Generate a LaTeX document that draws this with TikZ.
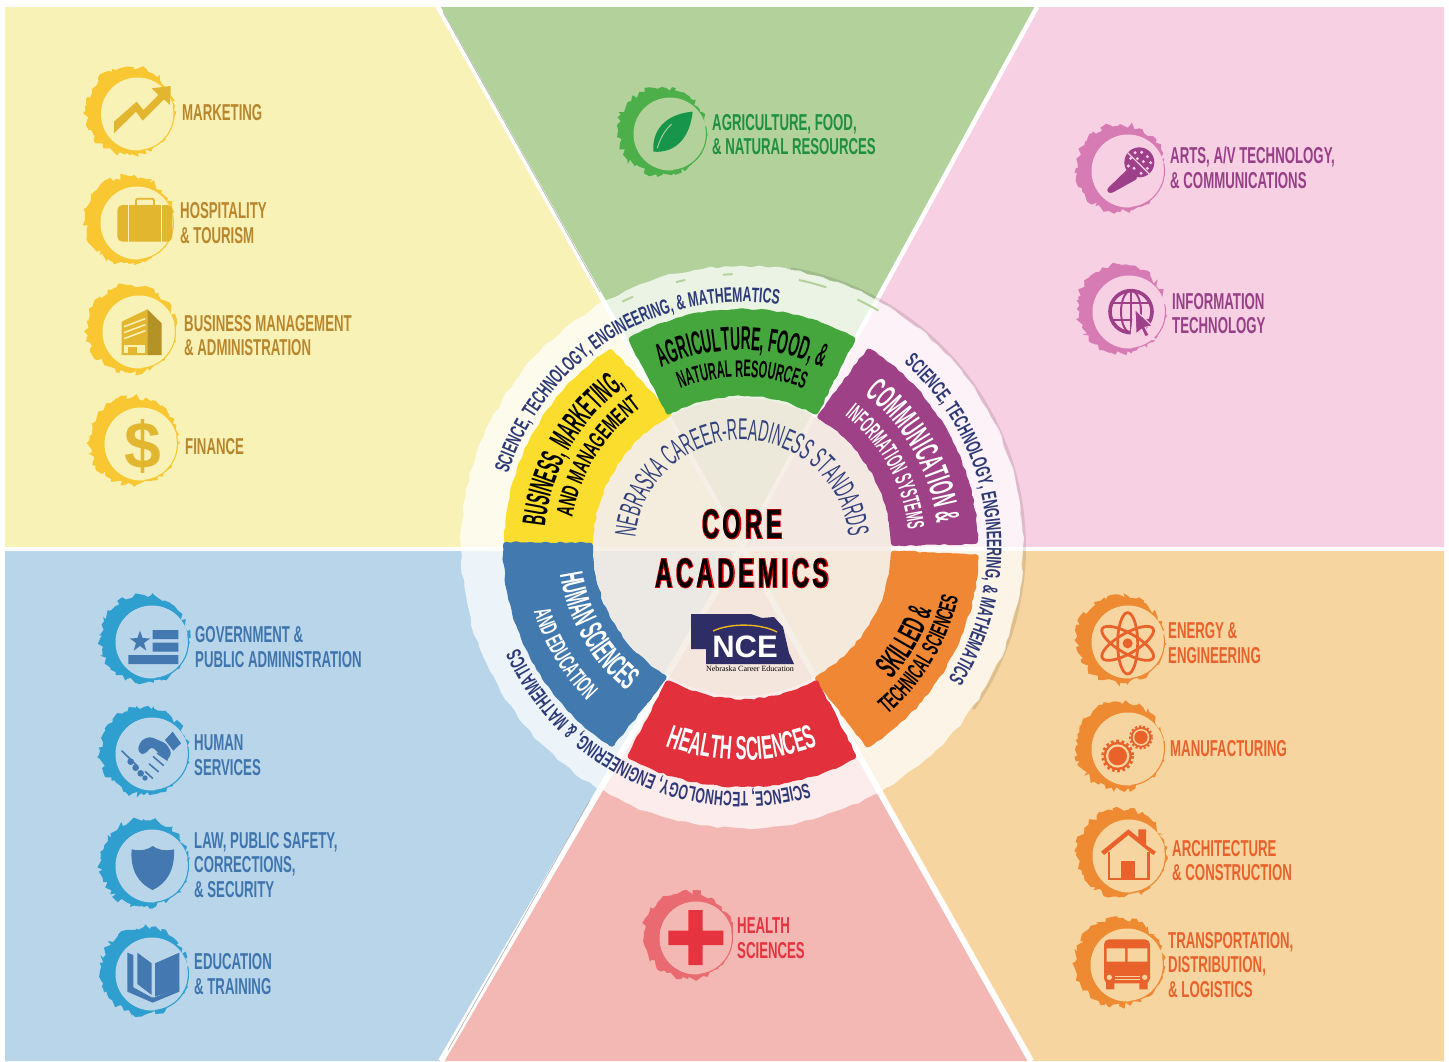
\documentclass[tikz,border=0pt]{standalone}
\usepackage{fontspec}
\usetikzlibrary{decorations.text,decorations.pathmorphing,calc}
\setmainfont{Liberation Sans}
\newfontfamily\fsA[FakeStretch=.42]{Liberation Sans}
\newfontfamily\fsB[FakeStretch=.46]{Liberation Sans}
\newfontfamily\fsE[FakeStretch=.50]{Liberation Sans}
\newfontfamily\fsC[FakeStretch=.52]{Liberation Sans}
\newfontfamily\fsD[FakeStretch=.57]{Liberation Sans}
\newfontfamily\fsR[FakeStretch=.58]{Liberation Sans}
\newfontfamily\fsN[FakeStretch=.47]{Liberation Sans}
\newfontfamily\fsL[FakeStretch=.575]{Liberation Sans}
\newfontfamily\coreF[FakeStretch=.58,LetterSpace=9]{Liberation Sans}
\newfontfamily\coreR[FakeStretch=.58,LetterSpace=9,FakeBold=4]{Liberation Sans}
\newfontfamily\serifF{Liberation Serif}
\definecolor{bgY}{HTML}{F9F2B7}\definecolor{bgG}{HTML}{B2D19B}\definecolor{bgP}{HTML}{F7D0E3}
\definecolor{bgB}{HTML}{B9D5EA}\definecolor{bgR}{HTML}{F4B8B4}\definecolor{bgO}{HTML}{F7D5A0}
\definecolor{secY}{HTML}{FBDD2E}\definecolor{secG}{HTML}{44A63C}\definecolor{secP}{HTML}{9E4186}
\definecolor{secO}{HTML}{F08734}\definecolor{secR}{HTML}{E2303C}\definecolor{secB}{HTML}{4279AF}
\definecolor{navy}{HTML}{2E3A78}\definecolor{navyL}{HTML}{34427C}\definecolor{logoN}{HTML}{2F2D66}
\definecolor{icY}{HTML}{E2B62F}\definecolor{riY}{HTML}{F8C731}\definecolor{txY}{HTML}{B9862C}
\definecolor{icB}{HTML}{4478B0}\definecolor{riB}{HTML}{2F9FCF}\definecolor{txB}{HTML}{3F75AE}
\definecolor{icO}{HTML}{E9622C}\definecolor{riO}{HTML}{EE8A32}\definecolor{txO}{HTML}{E9622C}
\definecolor{icP}{HTML}{9E3F8A}\definecolor{riP}{HTML}{D77BB4}\definecolor{txP}{HTML}{973F87}
\definecolor{icG}{HTML}{17964B}\definecolor{riG}{HTML}{4CAF4A}\definecolor{txG}{HTML}{1F8F42}
\definecolor{icR}{HTML}{E5343F}\definecolor{riR}{HTML}{E96A70}\definecolor{txR}{HTML}{E5343F}
\definecolor{discT}{HTML}{EDE0D0}\definecolor{logoY}{HTML}{EDB423}
\tikzset{
  lab/.style={anchor=west,align=left,inner sep=0pt,yshift=-.7pt,font=\fsL\bfseries\fontsize{23}{24.5}\selectfont},
  zoomat/.style 2 args={shift={(#1,-#2)},x=.33333pt,y=-.33333pt},
  rough/.style={decorate,decoration={random steps,segment length=5,amplitude=.9}},
}
% rough crescent ring of an icon
\newcommand\ringicon[4]{%
  \fill[#3,decorate,decoration={random steps,segment length=3.5,amplitude=3}] (#1-8,-#2+3) circle (44);
  \fill[#4] (#1,-#2) circle (36.5);
  \draw[#3,line width=1.1pt] (#1,-#2) ++(-85:36.5) arc[start angle=-85,end angle=12,radius=36.5];
}
% arc text centred on the wheel; arg: radius,start,end,format,text
\newcommand\arctext[5]{%
  \path[postaction={decorate},decoration={text along path,text align=center,text={|#4|#5}}]
    (742,-547) ++(#2:#1) arc[start angle=#2,end angle=#3,radius=#1];
}
% coloured sector: color, Ro, a1, a2, Ri, a3, a4 (outer a1->a2, inner a4->a3 back to a1's side);
% the stroke with round joins rounds the corners, so radii and angles are inset by 3 units
\newcommand\sector[7]{%
  \path[fill=#1,draw=#1,line width=6pt,line join=round,rough] (742,-547) ++(#3:#2-3) arc[start angle=#3,end angle=#4,radius=#2-3]
    -- ($(742,-547)+(#7:#5+3)$) arc[start angle=#7,end angle=#6,radius=#5+3] -- cycle;
}
\newcommand\tA{\fsA\bfseries\fontsize{33}{33}\selectfont}
\newcommand\tB{\fsB\bfseries\fontsize{33}{33}\selectfont}
\newcommand\tC{\fsB\bfseries\fontsize{34}{34}\selectfont}
\newcommand\tD{\fsE\bfseries\fontsize{33}{33}\selectfont}
\newcommand\sA{\fsB\bfseries\fontsize{24}{24}\selectfont}
\newcommand\sC{\fsC\bfseries\fontsize{24}{24}\selectfont}
\newcommand\sD{\fsD\bfseries\fontsize{24}{24}\selectfont}
\newcommand\ringF{\fsR\bfseries\fontsize{21}{21}\selectfont}
\newcommand\nebF{\fsN\fontsize{30}{30}\selectfont}
\begin{document}
\begin{tikzpicture}[x=1pt,y=1pt]
\pgfmathsetseed{4711}
\useasboundingbox (0,0) rectangle (1449,-1061);
\fill[white] (0,0) rectangle (1449,-1061);
\coordinate (ctr) at (742,-547);
% --- background wedges
\fill[bgY] (5,-7) -- (438,-7) -- (ctr) -- (5,-549) -- cycle;
\fill[bgG] (438,-7) -- (1037,-7) -- (ctr) -- cycle;
\fill[bgP] (1037,-7) -- (1444,-7) -- (1444,-549) -- (ctr) -- cycle;
\fill[bgO] (1444,-549) -- (1444,-1061) -- (1031,-1061) -- (ctr) -- cycle;
\fill[bgR] (1031,-1061) -- (441,-1061) -- (ctr) -- cycle;
\fill[bgB] (441,-1061) -- (5,-1061) -- (5,-549) -- (ctr) -- cycle;
\draw[white,line width=3.5pt] (5,-549) -- (1444,-549);
\draw[white,line width=4.5pt] (438,-7) -- (ctr) -- (1037,-7);
\draw[white,line width=6pt] (441,-1061) -- (ctr) -- (1031,-1061);
\draw[gray!70,line width=.5pt] (443,-12) -- (600,-292);
\draw[gray!70,line width=.5pt] (448,-1050) -- (590,-800);
% --- outer ring
\draw[black,opacity=.10,line width=3pt] (ctr) ++(80:282.5) arc[start angle=80,end angle=-35,radius=282.5];
\fill[white,opacity=.74,decorate,decoration={random steps,segment length=8,amplitude=1.4}] (ctr) circle (281);
\foreach \a/\b in {116/113.5,104/102,94/92,78/72,65/60}{
  \draw[bgG,line width=2pt] (ctr) ++(\a:273) arc[start angle=\a,end angle=\b,radius=273];
}
% --- inner disc
\fill[discT,opacity=.5] (ctr) circle (149);
% --- coloured sectors
\sector{secY}{238}{124}{178.5}{149}{119}{178.5}
\sector{secG}{238}{118}{62}{151}{118.5}{61.5}
\sector{secP}{236}{57}{1.5}{149}{59}{1.5}
\sector{secO}{237}{-2.5}{-57.5}{149}{-2.5}{-60}
\sector{secR}{240}{-62}{-118}{152}{-61.5}{-118.5}
\sector{secB}{239}{-123.5}{-180.5}{149}{-121}{-180.5}
% --- sector texts
\arctext{197}{150}{30}{\tA\color{black}}{AGRICULTURE, FOOD, {\&}}
\arctext{170}{150}{30}{\sA\color{black}}{NATURAL RESOURCES}
\arctext{198}{210}{90}{\tA\color{black}}{BUSINESS, MARKETING,}
\arctext{172}{208}{88}{\sD\color{black}}{AND MANAGEMENT}
\arctext{196}{90}{-32}{\tC\color{white}}{COMMUNICATION {\&}}
\arctext{167}{90}{-32}{\sA\color{white}}{INFORMATION SYSTEMS}
\arctext{200}{-90}{30}{\tB\color{black}}{SKILLED {\&}}
\arctext{222}{-90}{28}{\sC\color{black}}{TECHNICAL SCIENCES}
\arctext{213}{-130}{-50}{\tD\color{white}}{HEALTH SCIENCES}
\arctext{184}{-209}{-91}{\tB\color{white}}{HUMAN SCIENCES}
\arctext{218}{-209}{-89}{\sC\color{white}}{AND EDUCATION}
% --- ring texts
\arctext{245}{182}{62}{\ringF\color{navy}}{SCIENCE, TECHNOLOGY, ENGINEERING, {\&} MATHEMATICS}
\arctext{245}{68}{-52}{\ringF\color{navy}}{SCIENCE, TECHNOLOGY, ENGINEERING, {\&} MATHEMATICS}
\arctext{245}{-55}{-175}{\ringF\color{navy}}{SCIENCE, TECHNOLOGY, ENGINEERING, {\&} MATHEMATICS}
\arctext{107}{185}{-5}{\nebF\color{navyL}}{NEBRASKA CAREER-READINESS STANDARDS}
% --- centre title
\node[text=red!85!black,inner sep=0pt,font=\coreR\bfseries\fontsize{41}{41}\selectfont] (coreo) at (742,-524) {CORE};
\node[text=black,inner sep=0pt,font=\coreF\bfseries\fontsize{41}{41}\selectfont] (core) at (742,-524) {CORE};
\node[text=red!85!black,inner sep=0pt,font=\coreR\bfseries\fontsize{41}{41}\selectfont] (acado) at (742,-573) {ACADEMICS};
\node[text=black,inner sep=0pt,font=\coreF\bfseries\fontsize{41}{41}\selectfont] (acad) at (742,-573) {ACADEMICS};
% --- NCE logo
\fill[logoN] (691,-614) -- (751,-614) -- (762,-618) -- (774,-617) -- (783,-627) -- (789,-653) -- (794,-664) -- (706,-664) -- (706,-649) -- (691,-649) -- cycle;
\draw[logoY,line width=1.4pt] (713,-631) .. controls (730,-623) and (760,-623) .. (777,-632);
\node[text=white,inner sep=0pt,font=\bfseries\fontsize{31}{31}\selectfont] (nce) at (745,-647) {NCE};
\node[text=black,inner sep=0pt,font=\serifF\fontsize{8}{9}\selectfont] (ncename) at (750,-669) {Nebraska Career Education};
% --- yellow group
\ringicon{137.5}{114}{riY}{bgY}
\ringicon{137}{223}{riY}{bgY}
\ringicon{139}{332}{riY}{bgY}
\ringicon{141}{444}{riY}{bgY}
\begin{scope}[zoomat={60}{50}]
  \fill[icY] (162,215)--(230,155)--(250,180)--(295,135)--(275,115)--(332,108)--(330,165)--(312,148)--(248,212)--(228,185)--(162,250)--cycle;
  \fill[icY,rounded corners=5pt] (172,465) rectangle (337,575);
  \draw[icY,line width=1.8pt,rounded corners=2pt] (228,465)--(228,446)--(282,446)--(282,465);
  \draw[bgY,line width=1pt] (205,465)--(205,575) (305,465)--(305,575);
  \fill[icY] (185,815)--(262,778)--(262,915)--(185,915)--cycle;
  \fill[icY!80!black] (262,778)--(305,820)--(305,915)--(262,915)--cycle;
  \foreach \yy in {830,848,866}{\draw[bgY,line width=1.5pt] (192,\yy)--(256,\yy-24);}
  \fill[bgY] (192,886) rectangle (256,908);
  \fill[icY] (205,892) rectangle (232,915);
\end{scope}
\node[text=icY,inner sep=0pt,font=\bfseries\fontsize{66}{66}\selectfont] (dollar) at (143,-446) {\$};
\node[lab,text=txY] (marketing) at (182,-112) {MARKETING};
\node[lab,text=txY] (hosp) at (180,-222.5) {HOSPITALITY\\\& TOURISM};
\node[lab,text=txY] (bizm) at (184,-335) {BUSINESS MANAGEMENT\\\& ADMINISTRATION};
\node[lab,text=txY] (fin) at (185,-446) {FINANCE};
% --- blue group
\ringicon{152}{642}{riB}{bgB}
\ringicon{152}{754}{riB}{bgB}
\ringicon{152}{866}{riB}{bgB}
\ringicon{152}{974}{riB}{bgB}
\begin{scope}[zoomat={80}{580}]
  \fill[icB] (180,152)--(188,174.5)--(211,175)--(192,189)--(199,212)--(180,198)--(161,212)--(168,189)--(149,175)--(172,174.5)--cycle;
  \fill[icB] (218,150) rectangle (295,177) (218,188) rectangle (295,215) (145,225) rectangle (295,252);
  % handshake
  \fill[icB] (255,480)--(278,455)--(303,490)--(280,512)--cycle;
  \fill[icB,rounded corners=3pt] (258,490)--(210,470)--(185,480)--(173,505)--(180,522)--(195,522)--(215,500)--(262,542)--(275,518)--cycle;
  \draw[icB,line width=1.6pt] (125,512)--(172,558);
  \fill[icB] (152,545) circle (10) (167,563) circle (10) (182,580) circle (10) (195,594) circle (8);
  \draw[icB,line width=1.6pt,line cap=round] (262,540)--(232,520) (250,556)--(220,530) (235,575)--(208,552) (218,595)--(196,575);
  \fill[icB] (155,808) .. controls (185,815) and (205,808) .. (218,798) .. controls (232,808) and (252,815) .. (282,808) .. controls (285,870) and (260,910) .. (218,930) .. controls (175,910) and (150,870) .. (155,808) -- cycle;
  \fill[icB] (225,1150)--(298,1118)--(298,1225)--(225,1250)--cycle;
  \fill[icB] (172,1118)--(215,1150)--(215,1245)--(172,1212)--cycle;
  \fill[icB] (142,1118)--(160,1125)--(160,1222)--(215,1252)--(225,1252)--(298,1222)--(298,1235)--(218,1268)--(142,1235)--cycle;
\end{scope}
\node[lab,text=txB] (gov) at (195,-646.5) {GOVERNMENT \&\\PUBLIC ADMINISTRATION};
\node[lab,text=txB] (human) at (194,-754.5) {HUMAN\\SERVICES};
\node[lab,text=txB] (law) at (194,-864) {LAW, PUBLIC SAFETY,\\CORRECTIONS,\\\& SECURITY};
\node[lab,text=txB] (edu) at (194,-973.5) {EDUCATION\\\& TRAINING};
% --- orange group
\ringicon{1128}{642}{riO}{bgO}
\ringicon{1128}{749}{riO}{bgO}
\ringicon{1129}{856}{riO}{bgO}
\ringicon{1127}{965}{riO}{bgO}
\begin{scope}[zoomat={1060}{580}]
  \draw[icO,line width=2.8pt,rotate around={30:(203,190)}] (203,190) ellipse [x radius=88,y radius=30];
  \draw[icO,line width=2.8pt,rotate around={-30:(203,190)}] (203,190) ellipse [x radius=88,y radius=30];
  \draw[icO,line width=2.8pt] (203,190) ellipse [x radius=30,y radius=92];
  \fill[icO] (203,190) circle (15);
  % gears
  \draw[icO,line width=3.4pt,dash pattern=on 2.6pt off 2.6pt] (173,528) circle (44);
  \fill[icO] (173,528) circle (42);
  \fill[bgO] (173,528) circle (35);
  \fill[icO] (173,528) circle (28);
  \draw[icO,line width=2.8pt,dash pattern=on 2pt off 2pt] (243,472) circle (32);
  \fill[icO] (243,472) circle (31);
  \fill[bgO] (243,472) circle (25);
  \fill[icO] (243,472) circle (20);
  % house
  \fill[icO] (123,815)--(205,748)--(235,772)--(235,748)--(258,748)--(258,795)--(288,815)--(280,825)--(205,765)--(132,825)--cycle;
  \draw[icO,line width=2.8pt] (147,815)--(147,897)--(265,897)--(265,815);
  \fill[icO] (183,842) rectangle (226,897);
  % bus
  \fill[icO,rounded corners=5pt] (132,1078) rectangle (270,1210);
  \fill[bgO] (140,1105) rectangle (195,1145) (203,1105) rectangle (262,1145);
  \fill[bgO] (148,1192) circle (8) (254,1192) circle (8);
  \draw[bgO,line width=.8pt] (165,1188)--(240,1188) (165,1199)--(240,1199);
  \fill[icO] (138,1205) rectangle (163,1228) (238,1205) rectangle (263,1228);
\end{scope}
\node[lab,text=txO] (energy) at (1168,-642.5) {ENERGY \&\\ENGINEERING};
\node[lab,text=txO] (manu) at (1170,-748) {MANUFACTURING};
\node[lab,text=txO] (arch) at (1172,-860) {ARCHITECTURE\\\& CONSTRUCTION};
\node[lab,text=txO] (trans) at (1168,-964) {TRANSPORTATION,\\DISTRIBUTION,\\\& LOGISTICS};
% --- pink group
\ringicon{1128}{171}{riP}{bgP}
\ringicon{1129}{312}{riP}{bgP}
\begin{scope}[zoomat={1060}{110}]
  \fill[icP] (238,157) circle (45);
  \fill[icP,rounded corners=3pt] (205,175)--(235,205)--(150,252)--(138,240)--cycle;
  \draw[bgP,line width=1.2pt] (203,128)--(268,192);
  \fill[bgP] (225,128) circle (5) (245,127) circle (5) (262,140) circle (5) (272,158) circle (5) (212,145) circle (5) (232,146) circle (5) (250,155) circle (5) (262,175) circle (5) (205,168) circle (5) (222,175) circle (5) (243,190) circle (5);
  \draw[icP,line width=3.6pt] (213,605) circle (63);
  \draw[icP,line width=2pt] (213,605) ellipse [x radius=30,y radius=63];
  \draw[icP,line width=2pt] (150,580)--(276,580) (150,630)--(276,630) (213,542)--(213,668);
  \fill[bgP] (218,620) -- (290,690) -- (210,690) -- cycle;
  \fill[icP,draw=bgP,line width=1pt] (225,598)--(277,648)--(255,652)--(268,676)--(255,680)--(245,658)--(228,672)--cycle;
\end{scope}
\node[lab,text=txP] (arts) at (1170,-167) {ARTS, A/V TECHNOLOGY,\\\& COMMUNICATIONS};
\node[lab,text=txP] (info) at (1172,-313) {INFORMATION\\TECHNOLOGY};
% --- green group
\ringicon{670}{134}{riG}{bgG}
\begin{scope}[zoomat={600}{70}]
  \fill[icG] (278,125) .. controls (215,130) and (155,165) .. (160,245) .. controls (230,250) and (270,200) .. (278,125) -- cycle;
  \draw[bgG,line width=.9pt] (172,235) .. controls (180,205) and (195,180) .. (215,162);
\end{scope}
\node[lab,text=txG] (agri) at (712,-134) {AGRICULTURE, FOOD,\\\& NATURAL RESOURCES};
% --- red group
\ringicon{696}{938}{riR}{bgR}
\begin{scope}[zoomat={630}{880}]
  \fill[icR] (175,90) rectangle (218,255) (115,152) rectangle (280,195);
\end{scope}
\node[lab,text=txR] (health) at (737,-937.5) {HEALTH\\SCIENCES};
\end{tikzpicture}
\end{document}
